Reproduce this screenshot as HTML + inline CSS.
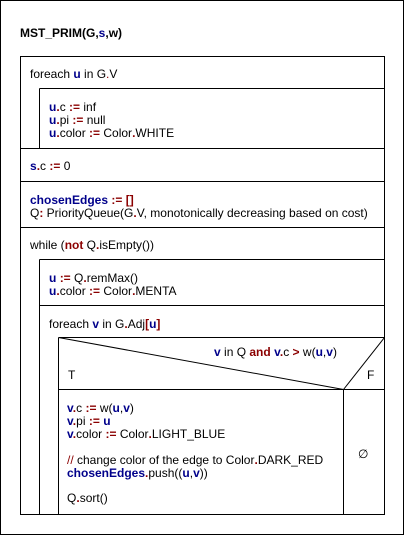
<!DOCTYPE html>
<html><head><meta charset="utf-8"><style>
html,body{margin:0;padding:0;background:#fff;}
svg{display:block;}
text{font-family:"Liberation Sans",Arial,sans-serif;font-size:12px;fill:#000;}
.b{fill:#00008b;font-weight:bold;}
.r{fill:#8b0000;font-weight:bold;}
.ri{fill:#8b0000;}
</style></head><body>
<svg width="405" height="536" viewBox="0 0 405 536" xmlns="http://www.w3.org/2000/svg">
<g fill="none" stroke="#000" stroke-width="1">
<rect x="0.5" y="0.5" width="403" height="534"/>
<rect x="20.5" y="56.5" width="364" height="458"/>
<line x1="39.5" y1="88.5" x2="384.5" y2="88.5"/>
<line x1="39.5" y1="88.5" x2="39.5" y2="148.5"/>
<line x1="20.5" y1="148.5" x2="384.5" y2="148.5"/>
<line x1="20.5" y1="181.5" x2="384.5" y2="181.5"/>
<line x1="20.5" y1="227.5" x2="384.5" y2="227.5"/>
<line x1="39.5" y1="259.5" x2="384.5" y2="259.5"/>
<line x1="39.5" y1="259.5" x2="39.5" y2="514.5"/>
<line x1="39.5" y1="305.5" x2="384.5" y2="305.5"/>
<line x1="58.5" y1="337.5" x2="384.5" y2="337.5"/>
<line x1="58.5" y1="337.5" x2="58.5" y2="514.5"/>
<line x1="58.5" y1="389.5" x2="384.5" y2="389.5"/>
<line x1="58.5" y1="337.5" x2="343.5" y2="389.5"/>
<line x1="384.5" y1="337.5" x2="343.5" y2="389.5"/>
<line x1="343.5" y1="389.5" x2="343.5" y2="514.5"/>
</g>
<text x="20" y="37" style="font-weight:bold">MST_PRIM(G,<tspan class="b">s</tspan>,w)</text>
<text x="30" y="78">foreach <tspan class="b">u</tspan> in G<tspan class="ri">.</tspan>V</text>
<text x="49" y="111"><tspan class="b">u</tspan><tspan class="r">.</tspan>c <tspan class="r">:=</tspan> inf</text>
<text x="49" y="124"><tspan class="b">u</tspan><tspan class="r">.</tspan>pi <tspan class="r">:=</tspan> null</text>
<text x="49" y="137"><tspan class="b">u</tspan><tspan class="r">.</tspan>color <tspan class="r">:=</tspan> Color<tspan class="r">.</tspan>WHITE</text>
<text x="30" y="170"><tspan class="b">s</tspan><tspan class="r">.</tspan>c <tspan class="r">:=</tspan> 0</text>
<text x="30" y="204"><tspan class="b">chosenEdges</tspan> <tspan class="r">:= []</tspan></text>
<text x="30" y="217">Q<tspan class="r">:</tspan> PriorityQueue(G<tspan class="r">.</tspan>V, monotonically decreasing based on cost)</text>
<text x="30" y="249">while (<tspan class="r">not</tspan> Q<tspan class="r">.</tspan>isEmpty())</text>
<text x="49" y="282"><tspan class="b">u</tspan> <tspan class="r">:=</tspan> Q<tspan class="r">.</tspan>remMax()</text>
<text x="49" y="295"><tspan class="b">u</tspan><tspan class="r">.</tspan>color <tspan class="r">:=</tspan> Color<tspan class="r">.</tspan>MENTA</text>
<text x="49" y="328">foreach <tspan class="b">v</tspan> in G<tspan class="r">.</tspan>Adj<tspan class="r">[</tspan><tspan class="b">u</tspan><tspan class="r">]</tspan></text>
<text x="214" y="356"><tspan class="b">v</tspan> in Q <tspan class="r">and</tspan> <tspan class="b">v</tspan><tspan class="r">.</tspan>c <tspan class="r">&gt;</tspan> w(<tspan class="b">u</tspan>,<tspan class="b">v</tspan>)</text>
<text x="68" y="379">T</text>
<text x="367" y="379">F</text>
<text x="67" y="412"><tspan class="b">v</tspan><tspan class="r">.</tspan>c <tspan class="r">:=</tspan> w(<tspan class="b">u</tspan>,<tspan class="b">v</tspan>)</text>
<text x="67" y="425"><tspan class="b">v</tspan><tspan class="r">.</tspan>pi <tspan class="r">:=</tspan> <tspan class="b">u</tspan></text>
<text x="67" y="438"><tspan class="b">v</tspan><tspan class="r">.</tspan>color <tspan class="r">:=</tspan> Color<tspan class="r">.</tspan>LIGHT_BLUE</text>
<text x="67" y="464"><tspan class="ri">//</tspan> change color of the edge to Color<tspan class="r">.</tspan>DARK_RED</text>
<text x="67" y="477"><tspan class="b">chosenEdges</tspan><tspan class="r">.</tspan>push((<tspan class="b">u</tspan>,<tspan class="b">v</tspan>))</text>
<text x="67" y="502">Q<tspan class="r">.</tspan>sort()</text>
<text x="358" y="458">∅</text>
</svg>
</body></html>
